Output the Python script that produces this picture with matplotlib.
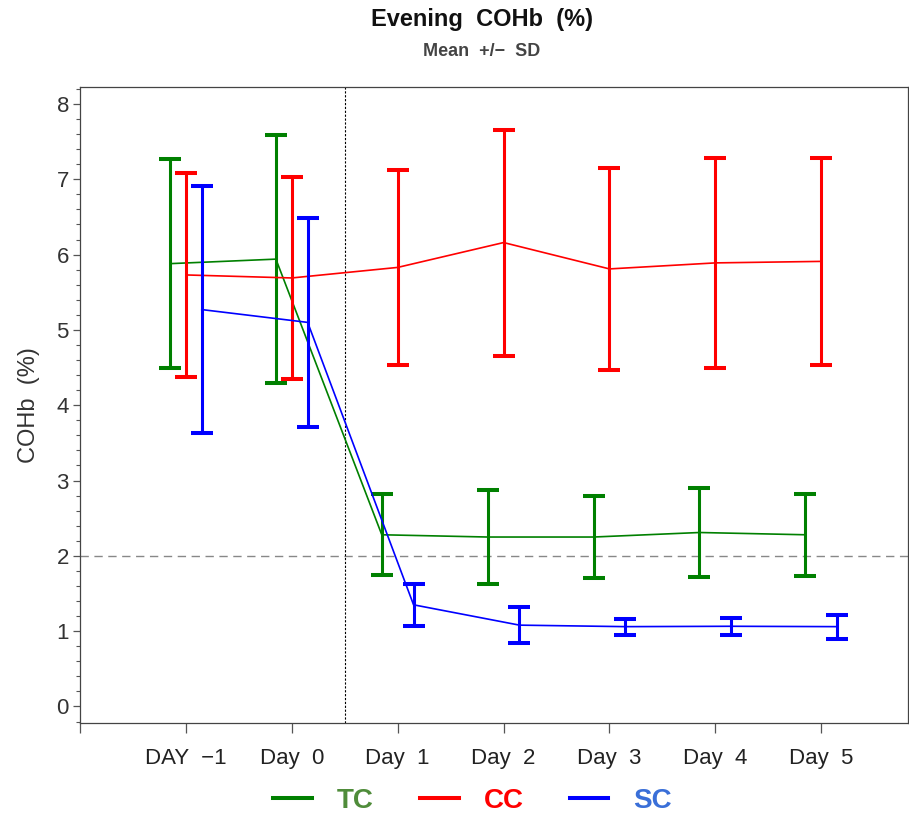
import matplotlib
matplotlib.use("Agg")
import matplotlib.pyplot as plt
from matplotlib.lines import Line2D
from matplotlib.ticker import MultipleLocator
import numpy as np

plt.rcParams['font.family'] = ['Liberation Sans', 'DejaVu Sans']

# Data
days = ["DAY  \u22121", "Day  0", "Day  1", "Day  2", "Day  3", "Day  4", "Day  5"]
tc_mean = [5.88, 5.94, 2.28, 2.25, 2.25, 2.31, 2.28]
tc_sd = [1.385, 1.65, 0.54, 0.625, 0.545, 0.59, 0.545]
cc_mean = [5.73, 5.69, 5.83, 6.16, 5.81, 5.89, 5.91]
cc_sd = [1.36, 1.345, 1.295, 1.50, 1.34, 1.39, 1.37]
sc_mean = [5.27, 5.10, 1.35, 1.08, 1.06, 1.065, 1.06]
sc_sd = [1.64, 1.39, 0.28, 0.235, 0.105, 0.11, 0.16]

groups = ["TC", "CC", "SC"]
line_colors = ["#008000", "#FF0000", "#0000FF"]
text_colors = ["#4F8C3A", "#FF0000", "#3A6FD8"]
offsets = [-0.15, 0.0, 0.15]

fig = plt.figure(figsize=(9.09, 8.17), dpi=100)
ax = fig.add_axes([0.088, 0.115, 0.911, 0.778])

x = np.arange(len(days))
series = [(tc_mean, tc_sd), (cc_mean, cc_sd), (sc_mean, sc_sd)]
for (m, s), col, off in zip(series, line_colors, offsets):
    ax.plot(x + off, m, color=col, lw=1.2, zorder=3)
    ax.errorbar(x + off, m, yerr=s, fmt='none', ecolor=col, elinewidth=2.2,
                capsize=8, capthick=2.9, zorder=3)

# reference lines
ax.axhline(2, color="#888888", lw=1.0, ls=(0, (6, 4)), zorder=1)
ax.axvline(1.5, color="black", lw=0.8, ls=(0, (2, 1.5)), zorder=1)

ax.set_xlim(-1.0, 6.82)
ax.set_ylim(-0.22, 8.22)
ax.set_xticks([-1] + list(x))
ax.set_xticklabels([""] + days)
ax.yaxis.set_major_locator(MultipleLocator(1))
ax.yaxis.set_minor_locator(MultipleLocator(0.2))

ax.tick_params(axis='x', length=7, width=0.9, color="#555555", pad=11,
               labelsize=16, labelcolor="#222222")
ax.tick_params(axis='y', which='major', length=5, width=0.9, color="#555555",
               pad=3, labelsize=16, labelcolor="#333333")
ax.tick_params(axis='y', which='minor', length=3, width=0.8, color="#555555")
for sp in ax.spines.values():
    sp.set_color("#444444")
    sp.set_linewidth(0.9)

ax.set_ylabel("COHb  (%)", fontsize=17, color="#333333", labelpad=12)

fig.text(0.53, 0.976, "Evening  COHb  (%)", ha='center', va='center',
         fontsize=17, fontweight='bold', color="#111111")
fig.text(0.53, 0.937, "Mean  +/\u2212  SD", ha='center', va='center',
         fontsize=13, fontweight='bold', color="#444444")

handles = [Line2D([], [], color=c, lw=2.9) for c in line_colors]
leg = fig.legend(handles, groups, loc='center', bbox_to_anchor=(0.52, 0.02),
                 ncol=3, frameon=False, handlelength=1.4, handletextpad=0.9,
                 columnspacing=1.65, prop={'size': 20, 'weight': 'bold'})
for t, c in zip(leg.get_texts(), text_colors):
    t.set_color(c)

fig.savefig("out.png", dpi=100)
